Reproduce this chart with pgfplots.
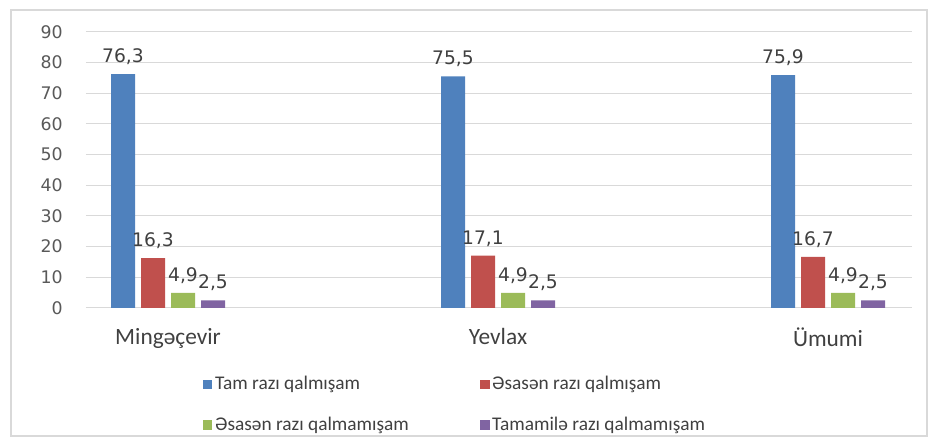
\documentclass[border=0pt]{standalone}
\usepackage{fontspec}
\setmainfont{Carlito}
\newfontfamily\numfont{DejaVu Sans}
\usepackage{pgfplots}
\pgfplotsset{compat=1.18}

\definecolor{cblue}{RGB}{79,129,189}
\definecolor{cred}{RGB}{192,80,77}
\definecolor{cgreen}{RGB}{155,187,89}
\definecolor{cpurple}{RGB}{128,100,162}
\definecolor{gridgray}{RGB}{217,217,217}
\definecolor{framegray}{RGB}{217,217,217}
\definecolor{ticktext}{RGB}{89,89,89}
\definecolor{labeltext}{RGB}{64,64,64}

\begin{document}
\begin{tikzpicture}
\begin{axis}[
    name=ax,
    scale only axis,
    width=619.5pt, height=207pt,
    ybar,
    bar width=18pt,
    ymin=0, ymax=90,
    ytick={0,10,...,90},
    xmin=-0.2485, xmax=2.2545,
    xtick={0,1,2},
    xticklabels={Mingəçevir, Yevlax, Ümumi},
    ymajorgrids,
    grid style={gridgray, line width=0.75pt},
    axis line style={draw=none},
    major tick length=0pt,
    /pgf/number format/assume math mode=true,
    yticklabel style={font=\numfont\fontsize{13pt}{15pt}\selectfont, text=ticktext, anchor=east, xshift=-14pt},
    xticklabel style={font=\fontsize{17.5pt}{20pt}\selectfont, text=labeltext, anchor=north, yshift=-11.5pt},
    nodes near coords,
    nodes near coords style={font=\numfont\fontsize{14pt}{16pt}\selectfont, text=labeltext, anchor=south, yshift=3.5pt,
      /pgf/number format/.cd, fixed, fixed zerofill, precision=1, use comma},
    legend columns=2,
    legend cell align=left,
    legend style={draw=none, fill=none, at={(0.137,-0.228)}, anchor=north west,
      font=\fontsize{14.5pt}{17pt}\selectfont, text=labeltext, row sep=15pt,
      /tikz/every even column/.append style={column sep=0pt}},
    legend image code/.code={\fill[#1] (0pt,-3.4pt) rectangle (6.8pt,3.4pt);},
  ]
  \addplot[fill=cblue, draw=none, bar shift=-33.75pt] coordinates {(0,76.3) (1,75.5) (2,75.9)};
  \addlegendentry{\makebox[197pt][l]{Tam razı qalmışam}}
  \addplot[fill=cred, draw=none, bar shift=-11.25pt] coordinates {(0,16.3) (1,17.1) (2,16.7)};
  \addlegendentry{Əsasən razı qalmışam}
  \addplot[fill=cgreen, draw=none, bar shift=11.25pt] coordinates {(0,4.9) (1,4.9) (2,4.9)};
  \addlegendentry{\makebox[197pt][l]{Əsasən razı qalmamışam}}
  \addplot[fill=cpurple, draw=none, bar shift=33.75pt] coordinates {(0,2.5) (1,2.5) (2,2.5)};
  \addlegendentry{Tamamilə razı qalmamışam}
\end{axis}
\path ([shift={(-64.5pt,231pt)}]ax.south west) rectangle ([shift={(632.25pt,-97.5pt)}]ax.south west);
\draw[framegray, line width=1.5pt] ([shift={(-56.25pt,223.5pt)}]ax.south west) rectangle ([shift={(630.75pt,-96pt)}]ax.south west);
\end{tikzpicture}
\end{document}
